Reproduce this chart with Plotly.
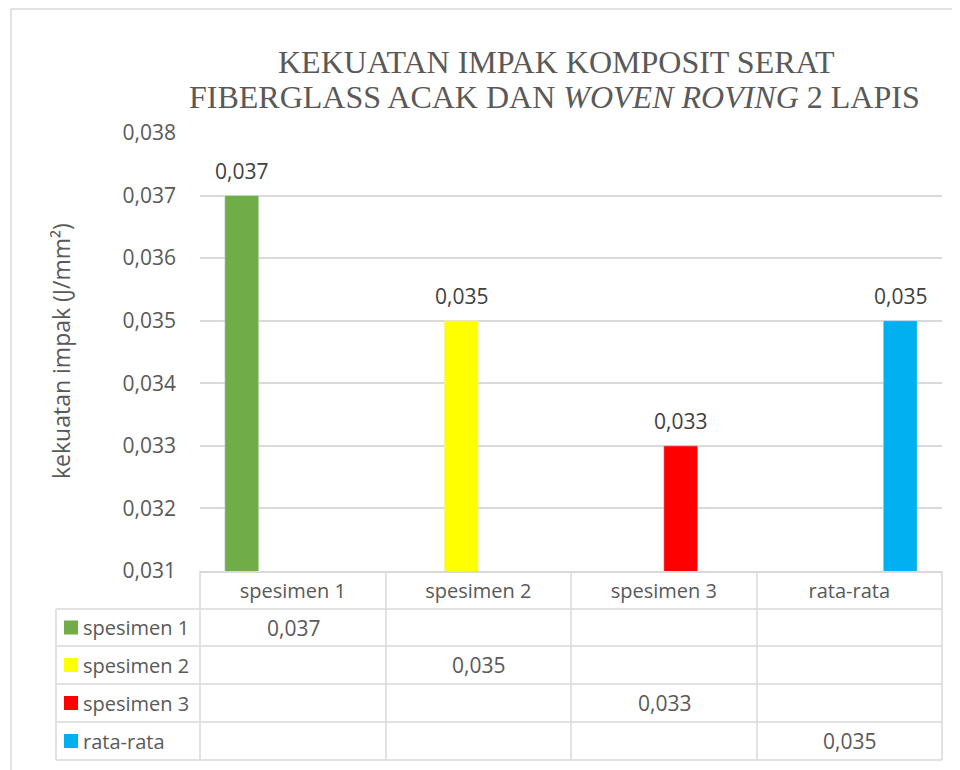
"""Kekuatan impak komposit serat fiberglass: bar chart with Excel-style data table."""

import plotly.graph_objects as go

categories = ["spesimen 1", "spesimen 2", "spesimen 3", "rata-rata"]
series_names = ["spesimen 1", "spesimen 2", "spesimen 3", "rata-rata"]
series_values = [
    [0.037, None, None, None],
    [None, 0.035, None, None],
    [None, None, 0.033, None],
    [None, None, None, 0.035],
]
series_colors = ["#70AD47", "#FFFF00", "#FF0000", "#00B0F0"]
y_ticks = [0.031, 0.032, 0.033, 0.034, 0.035, 0.036, 0.037, 0.038]

OFF = 8  # page body margin of the browser
W, H = 960 - OFF, 770 - OFF
PL, PR, PT, PB = 200, 942, 133, 571  # plot area, in picture pixels
TEXT = "#595959"
GRID = "#D9D9D9"
FONT = "Open Sans"
BARGAP = 0.267


def px_x(x):
    return (x - PL) / (PR - PL)


def px_y(y):
    return (PB - y) / (PB - PT)


def fmt(v):
    return f"{v:.3f}".replace(".", ",")


fig = go.Figure()
for name, vals, color in zip(series_names, series_values, series_colors):
    fig.add_trace(go.Bar(x=categories, y=vals, name=name, marker_color=color))

# data labels above the bars (offset within the group like the bars)
annotations = []
n = len(series_names)
group_w = 1 - BARGAP
for i, vals in enumerate(series_values):
    offset = -group_w / 2 + (i + 0.5) * group_w / n
    for j, v in enumerate(vals):
        if v is None:
            continue
        annotations.append(dict(text=fmt(v), xref="x", yref="y", x=j + offset, y=v,
                                yanchor="middle", yshift=25, showarrow=False,
                                font=dict(family=FONT, size=21, color="#404040")))

# data table below the plot
col_edges = [200, 386, 571, 757, 942]
row_edges = [571, 609, 646, 684, 722, 760]
line = dict(color=GRID, width=1.5)
shapes = []
for y in row_edges[1:]:
    shapes.append(dict(type="line", xref="paper", yref="paper", line=line,
                       x0=px_x(56), x1=px_x(942), y0=px_y(y), y1=px_y(y)))
for x in col_edges:
    shapes.append(dict(type="line", xref="paper", yref="paper", line=line,
                       x0=px_x(x), x1=px_x(x), y0=px_y(571), y1=px_y(760)))
shapes.append(dict(type="line", xref="paper", yref="paper", line=line,
                   x0=px_x(56), x1=px_x(56), y0=px_y(609), y1=px_y(760)))
# outer chart border (left and top edges are the visible ones)
shapes.append(dict(type="line", xref="paper", yref="paper", line=line,
                   x0=px_x(11), x1=px_x(11), y0=px_y(9), y1=px_y(800)))
shapes.append(dict(type="line", xref="paper", yref="paper", line=line,
                   x0=px_x(11), x1=px_x(990), y0=px_y(9), y1=px_y(9)))

for i, (name, vals, color) in enumerate(zip(series_names, series_values, series_colors)):
    yc = (row_edges[i + 1] + row_edges[i + 2]) / 2
    shapes.append(dict(type="rect", xref="paper", yref="paper",
                       x0=px_x(64), x1=px_x(78), y0=px_y(yc - 7), y1=px_y(yc + 7),
                       fillcolor=color, line=dict(width=0)))
    annotations.append(dict(text=name, xref="paper", yref="paper",
                            x=px_x(81), y=px_y(yc), xanchor="left", yanchor="middle",
                            showarrow=False, font=dict(family=FONT, size=20, color=TEXT)))
    for j, v in enumerate(vals):
        if v is None:
            continue
        xc = (col_edges[j] + col_edges[j + 1]) / 2
        annotations.append(dict(text=fmt(v), xref="paper", yref="paper",
                                x=px_x(xc), y=px_y(yc), xanchor="center", yanchor="middle",
                                showarrow=False, font=dict(family=FONT, size=21, color=TEXT)))

# title, two lines
title_font = dict(family="Liberation Serif", size=32, color=TEXT)
annotations.append(dict(text="KEKUATAN IMPAK KOMPOSIT SERAT", xref="paper", yref="paper",
                        x=px_x(556), y=px_y(62), xanchor="center", yanchor="middle",
                        showarrow=False, font=title_font))
annotations.append(dict(text="FIBERGLASS ACAK DAN <i>WOVEN ROVING</i> 2 LAPIS",
                        xref="paper", yref="paper",
                        x=px_x(554), y=px_y(97), xanchor="center", yanchor="middle",
                        showarrow=False, font=title_font))
# y axis title
annotations.append(dict(text="kekuatan impak (J/mm²)", xref="paper", yref="paper",
                        x=px_x(61), y=px_y(351), xanchor="center", yanchor="middle",
                        textangle=-90, showarrow=False,
                        font=dict(family=FONT, size=23, color=TEXT)))

fig.update_layout(
    width=W,
    height=H,
    margin=dict(l=PL - OFF, r=W - (PR - OFF), t=PT - OFF, b=H - (PB - OFF), pad=0),
    paper_bgcolor="white",
    plot_bgcolor="white",
    barmode="group",
    bargap=BARGAP,
    bargroupgap=0,
    showlegend=False,
    xaxis=dict(
        showgrid=False,
        showline=True,
        linecolor=GRID,
        linewidth=1.5,
        ticks="",
        ticklabelstandoff=1,
        tickfont=dict(family=FONT, size=20, color=TEXT),
    ),
    yaxis=dict(
        range=[y_ticks[0], y_ticks[-1]],
        tickvals=y_ticks,
        ticktext=[fmt(v) for v in y_ticks],
        showgrid=True,
        gridcolor=GRID,
        gridwidth=1.5,
        zeroline=False,
        showline=False,
        ticks="",
        ticklabelstandoff=23,
        tickfont=dict(family=FONT, size=21, color=TEXT),
    ),
    shapes=shapes,
    annotations=annotations,
)

fig.write_html("out.html")
